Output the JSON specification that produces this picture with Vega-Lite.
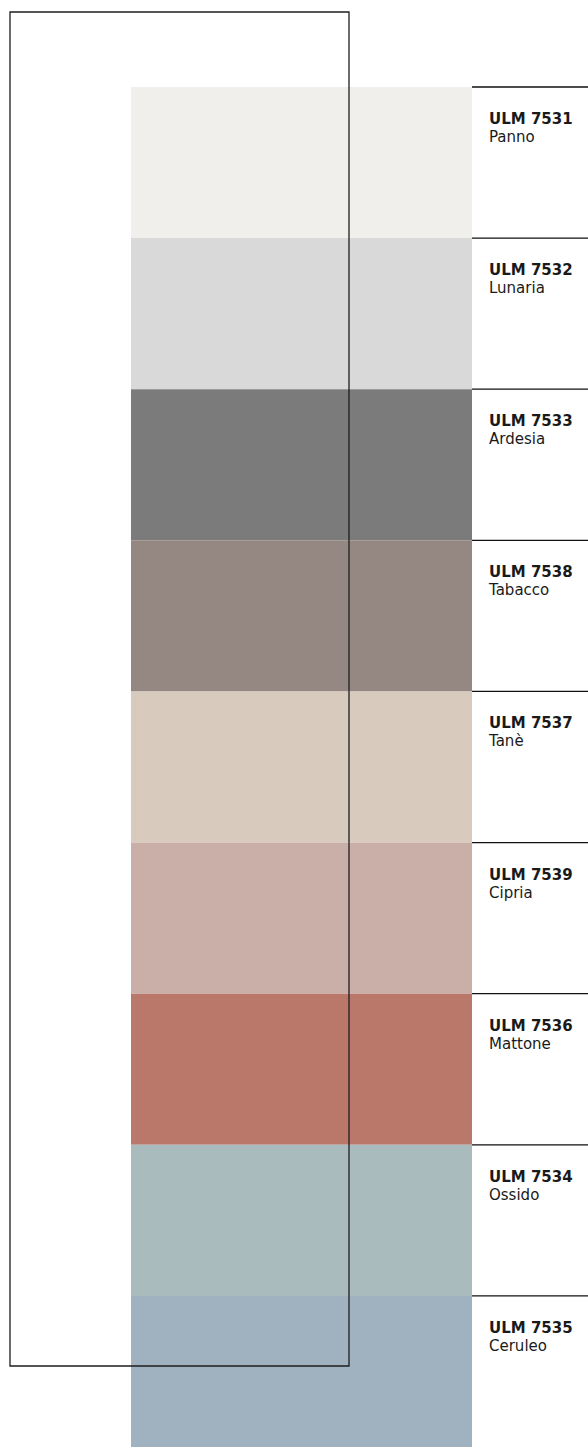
{
  "$schema": "https://vega.github.io/schema/vega-lite/v6.json",
  "autosize": {"type": "fit", "contains": "padding"},
  "width": 588,
  "height": 1447,
  "padding": 0,
  "background": "#ffffff",
  "config": {"view": {"stroke": null}},
  "data": {
    "values": [
      {"code": "ULM 7531", "name": "Panno", "hex": "#F0EFEB"},
      {"code": "ULM 7532", "name": "Lunaria", "hex": "#D9D9DA"},
      {"code": "ULM 7533", "name": "Ardesia", "hex": "#7B7B7B"},
      {"code": "ULM 7538", "name": "Tabacco", "hex": "#958883"},
      {"code": "ULM 7537", "name": "Tanè", "hex": "#D8CABD"},
      {"code": "ULM 7539", "name": "Cipria", "hex": "#CAAFA8"},
      {"code": "ULM 7536", "name": "Mattone", "hex": "#BA786B"},
      {"code": "ULM 7534", "name": "Ossido", "hex": "#AABBBE"},
      {"code": "ULM 7535", "name": "Ceruleo", "hex": "#A0B1BF"}
    ]
  },
  "resolve": {"scale": {"y": "independent"}},
  "layer": [
    {
      "mark": {"type": "rect"},
      "encoding": {
        "y": {"field": "code", "type": "nominal", "sort": null, "axis": null,
              "scale": {"range": [87, 1447], "paddingInner": 0, "paddingOuter": 0}},
        "x": {"datum": 131, "type": "quantitative", "axis": null,
              "scale": {"domain": [0, 588], "range": [0, 588], "nice": false, "zero": false}},
        "x2": {"datum": 472},
        "color": {"field": "hex", "type": "nominal", "scale": null, "legend": null}
      }
    },
    {
      "data": {"values": [{"box": "frame"}]},
      "mark": {"type": "rect", "fill": null, "stroke": "#1e1e1e", "strokeWidth": 1.3},
      "encoding": {
        "x": {"datum": 10, "type": "quantitative", "axis": null},
        "x2": {"datum": 349},
        "y": {"datum": 12, "type": "quantitative", "axis": null,
              "scale": {"domain": [0, 1447], "range": [0, 1447], "nice": false, "zero": false}},
        "y2": {"datum": 1366}
      }
    },
    {
      "mark": {"type": "rule", "stroke": "#111111", "strokeWidth": 1.3},
      "encoding": {
        "y": {"field": "code", "type": "nominal", "sort": null, "axis": null, "bandPosition": 0,
              "scale": {"range": [87, 1447], "paddingInner": 0, "paddingOuter": 0}},
        "x": {"datum": 472, "type": "quantitative", "axis": null},
        "x2": {"datum": 588}
      }
    },
    {
      "mark": {"type": "text", "align": "left", "baseline": "alphabetic", "dy": -38.6,
               "font": "DejaVu Sans", "fontWeight": "bold", "fontSize": 15, "color": "#1a1a1a"},
      "encoding": {
        "y": {"field": "code", "type": "nominal", "sort": null, "axis": null,
              "scale": {"range": [87, 1447], "paddingInner": 0, "paddingOuter": 0}},
        "x": {"datum": 489, "type": "quantitative", "axis": null},
        "text": {"field": "code"}
      }
    },
    {
      "mark": {"type": "text", "align": "left", "baseline": "alphabetic", "dy": -20.6,
               "font": "DejaVu Sans", "fontSize": 15, "color": "#1a1a1a"},
      "encoding": {
        "y": {"field": "code", "type": "nominal", "sort": null, "axis": null,
              "scale": {"range": [87, 1447], "paddingInner": 0, "paddingOuter": 0}},
        "x": {"datum": 489, "type": "quantitative", "axis": null},
        "text": {"field": "name"}
      }
    }
  ]
}
